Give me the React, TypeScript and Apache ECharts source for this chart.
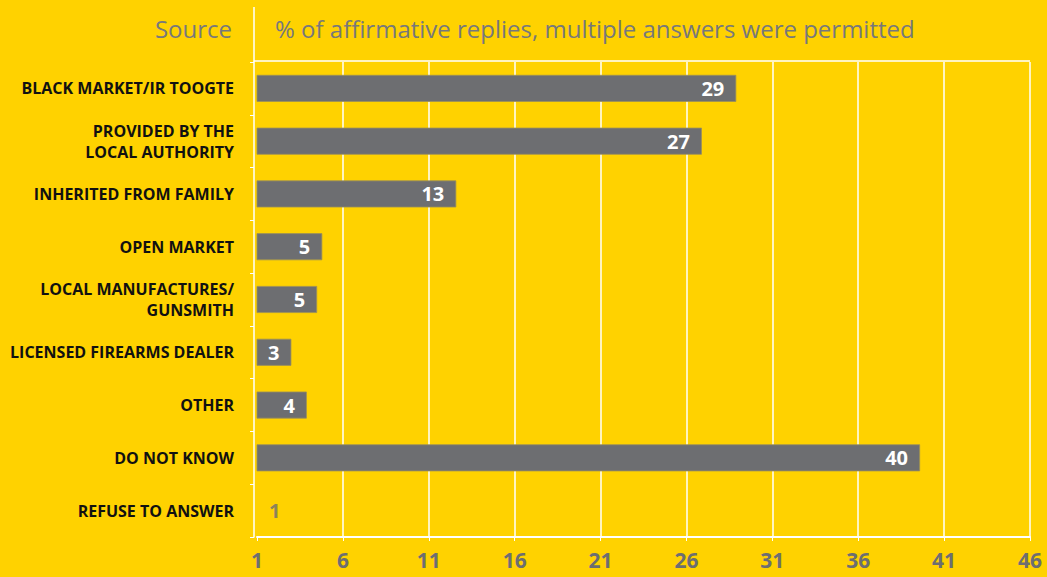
import React, { useEffect, useRef } from "react";
import * as echarts from "echarts";

const categories = [
  "BLACK MARKET/IR TOOGTE",
  "PROVIDED BY THE\nLOCAL AUTHORITY",
  "INHERITED FROM FAMILY",
  "OPEN MARKET",
  "LOCAL MANUFACTURES/\nGUNSMITH",
  "LICENSED FIREARMS DEALER",
  "OTHER",
  "DO NOT KNOW",
  "REFUSE TO ANSWER",
];
const values = [28.9, 26.9, 12.6, 4.8, 4.5, 3.0, 3.9, 39.6, 1.0];
const shownLabels = ["29", "27", "13", "5", "5", "3", "4", "40", "1"];
const axisMin = 1;
const axisMax = 46;
const axisStep = 5;
const headerLeft = "Source";
const headerRight = "% of affirmative replies, multiple answers were permitted";

const YELLOW = "#FFD200";
const GREY = "#6D6E71";
const FONT = "'Open Sans', 'Noto Sans', sans-serif";

export default function App() {
  const ref = useRef<HTMLDivElement>(null);
  useEffect(() => {
    if (!ref.current) return;
    const chart = echarts.init(ref.current, undefined, { renderer: "svg" });
    const barData = values.map((v) => (v <= axisMin + 0.5 ? null : v));
    const outsideData = values
      .map((v, i) => (v <= axisMin + 0.5 ? [v, categories[i]] : null))
      .filter((d) => d !== null);
    const outsideIdx = values
      .map((v, i) => (v <= axisMin + 0.5 ? i : -1))
      .filter((i) => i >= 0);
    chart.setOption({
      animation: false,
      backgroundColor: YELLOW,
      textStyle: { fontFamily: FONT },
      grid: { left: 257, right: 17, top: 62, bottom: 40, containLabel: false },
      xAxis: {
        type: "value",
        min: axisMin,
        max: axisMax,
        interval: axisStep,
        axisLine: { show: true, lineStyle: { color: "#FFFFFF", width: 2 } },
        axisTick: { show: true, length: 4, lineStyle: { color: "#FFFFFF", width: 1 } },
        splitLine: { show: true, showMinLine: false, lineStyle: { color: "#FFFFFF", width: 1.5 } },
        axisLabel: {
          color: GREY,
          fontSize: 21,
          fontWeight: "bold",
          fontFamily: FONT,
          margin: 12,
        },
      },
      yAxis: {
        type: "category",
        data: categories,
        inverse: true,
        offset: 3,
        axisLine: { show: true, lineStyle: { color: "#FFFFFF", width: 1.5 } },
        axisTick: { show: true, length: 4, lineStyle: { color: "#FFFFFF" } },
        axisLabel: {
          color: "#111111",
          fontSize: 16,
          fontWeight: "bold",
          fontFamily: FONT,
          margin: 20,
          lineHeight: 21,
          align: "right",
        },
        splitLine: { show: false },
      },
      series: [
        {
          type: "bar",
          data: barData,
          barWidth: 27,
          itemStyle: { color: GREY, borderColor: "#9A8F5A", borderWidth: 0.8 },
          label: {
            show: true,
            position: "insideRight",
            distance: 12,
            color: "#FFFFFF",
            fontSize: 20,
            fontWeight: "bold",
            fontFamily: FONT,
            formatter: (p: any) => shownLabels[p.dataIndex],
          },
        },
        {
          type: "scatter",
          data: outsideData,
          symbolSize: 0,
          itemStyle: { color: "transparent" },
          label: {
            show: true,
            position: "right",
            distance: 12,
            color: GREY,
            fontSize: 20,
            fontWeight: "bold",
            fontFamily: FONT,
            formatter: (p: any) => shownLabels[outsideIdx[p.dataIndex]],
          },
        },
      ],
      graphic: [
        {
          type: "line",
          shape: { x1: 254, y1: 7, x2: 254, y2: 62 },
          style: { stroke: "#FFFFFF", lineWidth: 1.5 },
          z: 10,
        },
        {
          type: "line",
          shape: { x1: 254, y1: 61, x2: 1030, y2: 61 },
          style: { stroke: "#FFFFFF", lineWidth: 1.5 },
          z: 10,
        },
        {
          type: "text",
          x: 232,
          y: 28,
          style: {
            text: headerLeft,
            fill: "#77787B",
            fontSize: 24,
            fontFamily: FONT,
            align: "right",
            verticalAlign: "middle",
          },
        },
        {
          type: "text",
          x: 275,
          y: 28,
          style: {
            text: headerRight,
            fill: "#77787B",
            fontSize: 24,
            fontFamily: FONT,
            align: "left",
            verticalAlign: "middle",
          },
        },
      ],
    });
    return () => chart.dispose();
  }, []);
  return (
    <div
      ref={ref}
      style={{ position: "fixed", left: 0, top: 0, width: 1047, height: 577 }}
    />
  );
}
